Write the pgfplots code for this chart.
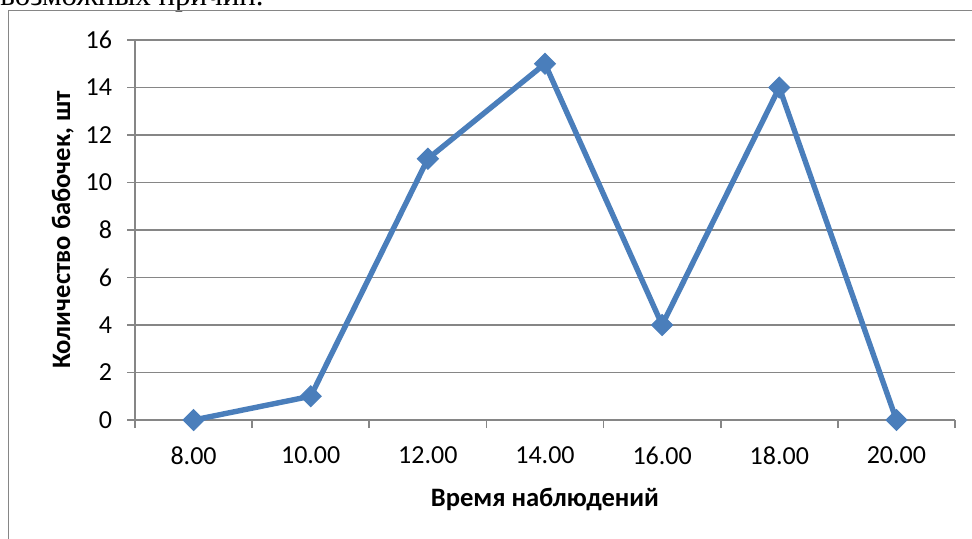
\documentclass[border=0pt]{standalone}
\usepackage{fontspec}
\setmainfont{Carlito}
\newfontfamily\docfont{Liberation Serif}
\usepackage{pgfplots}
\pgfplotsset{compat=1.18}

\definecolor{lineblue}{RGB}{74,126,187}
\definecolor{gridgray}{RGB}{134,134,134}

\begin{document}
\begin{tikzpicture}
\useasboundingbox (-67.5pt,-59pt) rectangle (418.5pt,210pt);
% cut-off line of document text above the chart
\node[anchor=base west, inner sep=0pt, font=\docfont\fontsize{15.5}{18}\selectfont] at (-67.5pt,207.5pt) {возможных причин.};
% chart frame
\draw[gridgray, line width=0.8pt] (-63.25pt,-80pt) -- (-63.25pt,204.75pt) -- (440pt,204.75pt);
\begin{axis}[
    at={(0,0)}, anchor=south west,
    scale only axis,
    width=410pt, height=190pt,
    xmin=-0.5, xmax=6.5,
    ymin=0, ymax=16,
    xtick={-0.5,0.5,...,6.5},
    x tick label as interval,
    xticklabels={8.00,10.00,12.00,14.00,16.00,18.00,20.00},
    ytick={0,2,...,16},
    major tick length=4pt,
    tick align=outside,
    tick style={gridgray, line width=0.8pt},
    axis x line*=bottom,
    axis y line*=left,
    axis line style={gridgray, line width=0.8pt, -},
    ymajorgrids,
    grid style={gridgray, line width=0.8pt},
    ticklabel style={font=\fontsize{13}{15}\selectfont},
    /pgf/number format/assume math mode=true,
    yticklabel style={anchor=east, xshift=-4pt},
    xticklabel style={anchor=center, yshift=-13.75pt},
    xlabel={Время наблюдений},
    ylabel={Количество бабочек, шт},
    label style={font=\bfseries\fontsize{13.3}{15}\selectfont},
    xlabel style={at={(axis description cs:0.5,-0.208)}, anchor=center},
    ylabel style={at={(axis description cs:-0.088,0.5)}, anchor=center},
    clip=false,
]
\addplot[color=lineblue, line width=2.7pt, mark=square*,
    mark size=3.7pt, mark options={rotate=45, fill=lineblue, draw=lineblue, line width=0.5pt}]
    coordinates {(0,0) (1,1) (2,11) (3,15) (4,4) (5,14) (6,0)};
\end{axis}
\end{tikzpicture}
\end{document}
